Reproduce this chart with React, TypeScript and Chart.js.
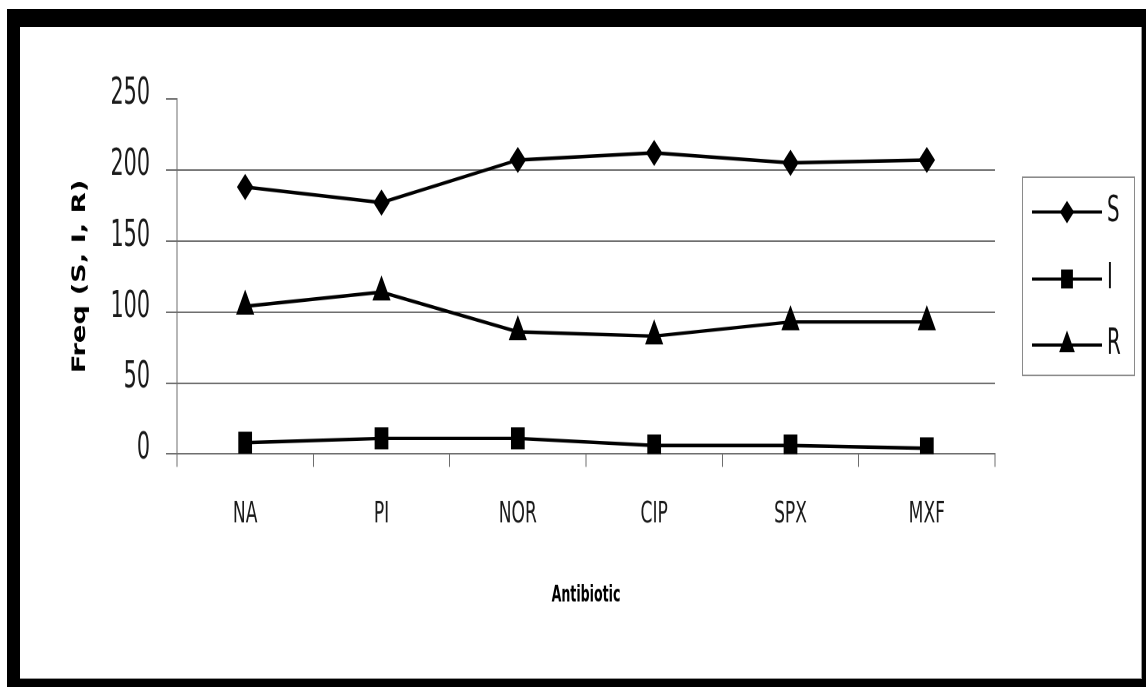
import React, { useEffect, useRef } from 'react';
import { Chart, registerables } from 'chart.js';
import { drawPoint } from 'chart.js/helpers';

Chart.register(...registerables);

const categories = ['NA', 'PI', 'NOR', 'CIP', 'SPX', 'MXF'];
const seriesS = [188, 177, 207, 212, 205, 207];
const seriesI = [8, 11, 11, 6, 6, 4];
const seriesR = [104, 114, 86, 83, 93, 93];
const seriesLabels = ['S', 'I', 'R'];
const yTicks = [0, 50, 100, 150, 200, 250];
const xTitle = 'Antibiotic';
const yTitle = 'Freq (S, I, R)';

const CANVAS_H = 408;
const SCALE_Y = 652 / CANVAS_H;
const NARROW = "'Liberation Sans Narrow', 'Arial Narrow', 'DejaVu Sans Condensed', sans-serif";
const GRID = '#6e6e6e';

const boxLegend = {
  id: 'boxLegend',
  afterDraw(chart: any) {
    const ctx = chart.ctx;
    ctx.save();
    ctx.strokeStyle = '#8a8a8a';
    ctx.lineWidth = 1;
    ctx.strokeRect(1002.5, 94, 112, 124);
    const ys = [115.8, 157.7, 199];
    chart.data.datasets.forEach((ds: any, i: number) => {
      const y = ys[i];
      ctx.strokeStyle = '#000';
      ctx.lineWidth = 2;
      ctx.beginPath();
      ctx.moveTo(1012, y);
      ctx.lineTo(1082, y);
      ctx.stroke();
      ctx.fillStyle = '#000';
      ctx.lineWidth = 1;
      drawPoint(ctx, { pointStyle: ds.pointStyle, radius: ds.pointRadius * 0.85, rotation: 0, borderWidth: 1 } as any, 1047, y);
      ctx.font = `22px ${NARROW}`;
      ctx.textBaseline = 'middle';
      ctx.textAlign = 'left';
      ctx.fillStyle = '#111';
      ctx.fillText(ds.label, 1087, y);
    });
    ctx.restore();
  },
};

export default function App() {
  const ref = useRef<HTMLCanvasElement | null>(null);

  useEffect(() => {
    document.documentElement.style.overflow = 'hidden';
    const canvas = ref.current;
    if (!canvas) return;
    const mk = (label: string, data: number[], style: string, r: number) => ({
      label,
      data,
      borderColor: '#000',
      backgroundColor: '#000',
      borderWidth: 2.2,
      pointStyle: style,
      pointRadius: r,
      pointBorderWidth: 1,
      pointBackgroundColor: '#000',
      pointBorderColor: '#000',
      tension: 0,
    });
    const chart = new Chart(canvas, {
      type: 'line',
      data: {
        labels: categories,
        datasets: [
          mk(seriesLabels[0], seriesS, 'rectRot', 7.5),
          mk(seriesLabels[1], seriesI, 'rect', 9),
          mk(seriesLabels[2], seriesR, 'triangle', 9.5),
        ],
      },
      options: {
        animation: false,
        responsive: true,
        maintainAspectRatio: false,
        devicePixelRatio: 2,
        layout: { padding: { left: 0, top: 45, right: 147, bottom: 0 } },
        plugins: {
          legend: { display: false },
          tooltip: { enabled: false },
        },
        scales: {
          x: {
            type: 'category',
            offset: true,
            grid: {
              offset: true,
              drawOnChartArea: false,
              drawTicks: true,
              tickLength: 8,
              color: GRID,
              lineWidth: 1,
            },
            border: { display: true, color: GRID, width: 1 },
            ticks: {
              autoSkip: false,
              maxRotation: 0,
              padding: 18.5,
              color: '#1a1a1a',
              font: { family: NARROW, size: 19 },
            },
            title: {
              display: true,
              text: xTitle,
              color: '#000',
              font: { family: NARROW, size: 14, weight: 'bold' },
              padding: { top: 0, bottom: 43.5 },
            },
            afterFit: (s: any) => {
              s.height = CANVAS_H - 267.2;
            },
          },
          y: {
            min: 0,
            max: 250,
            afterBuildTicks: (s: any) => {
              s.ticks = yTicks.map((v) => ({ value: v }));
            },
            grid: {
              drawTicks: true,
              tickLength: 11,
              lineWidth: 1,
              color: (c: any) => (c.tick && c.tick.value === 250 ? 'rgba(0,0,0,0)' : GRID),
              tickColor: GRID,
            },
            border: { display: true, color: GRID, width: 1 },
            ticks: {
              padding: 16,
              labelOffset: -3,
              color: '#1a1a1a',
              font: { family: NARROW, size: 23 },
            },
            title: {
              display: true,
              text: yTitle,
              color: '#000',
              font: { family: NARROW, size: 19, weight: 'bold' },
              padding: { top: 48.6, bottom: 0 },
            },
            afterFit: (s: any) => {
              s.width = 157;
            },
          },
        },
      } as any,
      plugins: [boxLegend],
    });
    return () => chart.destroy();
  }, []);

  return (
    <>
      <div style={{ position: 'absolute', left: 7, top: 9, width: 1139, height: 678, background: '#000' }} />
      <div
        style={{
          position: 'absolute',
          left: 20,
          top: 27,
          width: 1122,
          height: 652,
          background: '#fff',
          boxSizing: 'border-box',
          borderRight: '1px solid #999',
          borderBottom: '1px solid #999',
        }}
      />
      <div
        style={{
          position: 'absolute',
          left: 20,
          top: 27,
          width: 1122,
          height: CANVAS_H,
          transform: `scaleY(${SCALE_Y})`,
          transformOrigin: 'top left',
        }}
      >
        <canvas ref={ref} />
      </div>
    </>
  );
}
